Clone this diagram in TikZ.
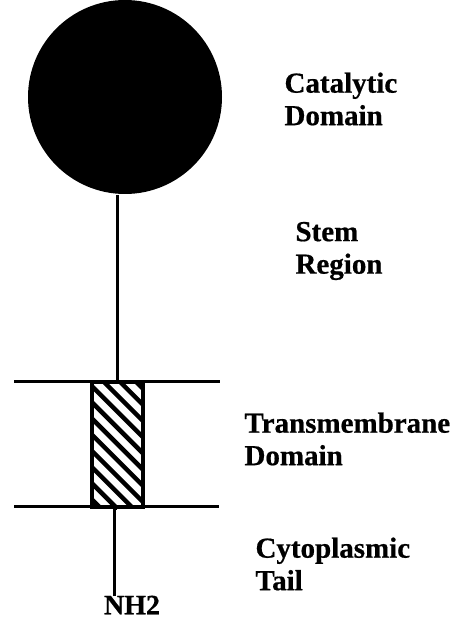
\documentclass[tikz,border=0pt]{standalone}
\usepackage{fontspec}
\setmainfont[BoldFeatures={FakeBold=0.6}]{Liberation Serif}
\begin{document}
\begin{tikzpicture}[x=1pt,y=-1pt,line width=3pt,
 lab/.style={font=\bfseries\fontsize{29}{32.5}\selectfont,align=left,anchor=west,inner sep=0pt},
 hatchline/.style={line width=4.5pt}]
\useasboundingbox (0,0) rectangle (454,620);
\node[circle,fill=black,minimum size=194pt,inner sep=0pt] (cat) at (125,97) {};
\node[minimum width=51pt,minimum height=125pt,inner sep=0pt] (tm) at (117,444) {};
\begin{scope}
\clip (tm.south west) rectangle (tm.north east);
\foreach \i in {-5,...,9}
 \draw[hatchline] (91,369+\i*16.2) -- ++(180,180);
\end{scope}
\node[draw=black,line width=4pt,minimum width=51pt,minimum height=125pt,inner sep=0pt] (tmf) at (117,444) {};
\coordinate (l1) at (14,381); \coordinate (r1) at (220,381);
\coordinate (l2) at (14,506); \coordinate (r2) at (219,506);
\coordinate (n) at (114,596);
\draw (l1) -- (r1);
\draw (l2) -- (r2);
\draw (cat.south -| tm.north) -- (tm.north);
\draw (tm.south) -- (tm.south -| n) -- (n);
\node[lab] (a) at (283,99) {Catalytic\\Domain};
\node[lab] (c) at (294,251) {Stem\\Region};
\node[lab] (d) at (243,439) {Transmembrane\\Domain};
\node[lab] (e) at (254,564) {Cytoplasmic\\Tail};
\node[font=\bfseries\fontsize{28}{32}\selectfont,inner sep=0pt] (nh) at (132,605) {NH2};
\end{tikzpicture}
\end{document}
